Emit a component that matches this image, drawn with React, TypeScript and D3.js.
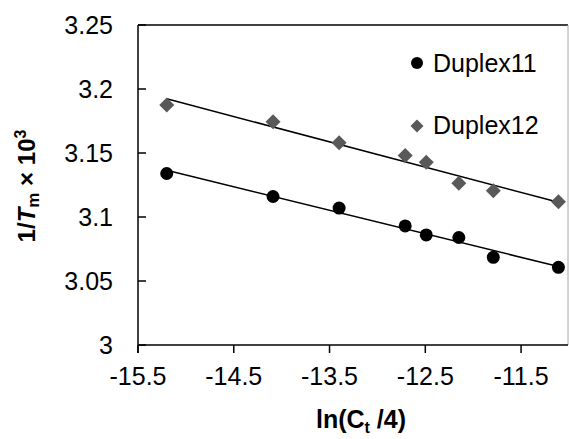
import React from "react";
import * as d3 from "d3";

const xValues = [-15.2, -14.09, -13.4, -12.71, -12.49, -12.15, -11.79, -11.11];
const duplex11 = [3.134, 3.116, 3.107, 3.093, 3.086, 3.084, 3.0685, 3.0607];
const duplex12 = [3.1875, 3.1745, 3.158, 3.148, 3.1427, 3.1263, 3.1206, 3.112];
const xTicks = [-15.5, -14.5, -13.5, -12.5, -11.5];
const yTicks = [3, 3.05, 3.1, 3.15, 3.2, 3.25];
const seriesNames = ["Duplex11", "Duplex12"];

const W = 569;
const H = 439;
const left = 138;
const right = 568;
const top = 25;
const bottom = 345;

function fit(xs: number[], ys: number[]) {
  const mx = d3.mean(xs)!;
  const my = d3.mean(ys)!;
  let num = 0;
  let den = 0;
  xs.forEach((x, i) => {
    num += (x - mx) * (ys[i] - my);
    den += (x - mx) * (x - mx);
  });
  const b = num / den;
  const a = my - b * mx;
  return (x: number) => a + b * x;
}

export default function App() {
  const x = d3.scaleLinear().domain([-15.5, -11.01]).range([left, right]);
  const y = d3.scaleLinear().domain([3, 3.25]).range([bottom, top]);
  const font = "'Liberation Sans', Arial, sans-serif";
  const xMin = d3.min(xValues)!;
  const xMax = d3.max(xValues)!;
  const f11 = fit(xValues, duplex11);
  const f12 = fit(xValues, duplex12);
  const line = d3
    .line<[number, number]>()
    .x((d) => x(d[0]))
    .y((d) => y(d[1]));
  const diamond = (cx: number, cy: number, r: number) =>
    `M${cx},${cy - r}L${cx + r},${cy}L${cx},${cy + r}L${cx - r},${cy}Z`;
  const gray = "#595959";

  return (
    <svg
      width={W}
      height={H}
      style={{ position: "absolute", left: 0, top: 0, background: "#fff" }}
      fontFamily={font}
    >
      <rect x={0} y={0} width={W} height={H} fill="#fff" />
      {/* plot border */}
      <line x1={left} x2={right} y1={top} y2={top} stroke="#000" strokeWidth={1.5} />
      <line x1={right} x2={right} y1={top} y2={bottom} stroke="#a6a6a6" strokeWidth={1} />
      {/* axes */}
      <line x1={left} x2={left} y1={top} y2={bottom + 8} stroke="#000" strokeWidth={1.5} />
      <line x1={left} x2={right} y1={bottom} y2={bottom} stroke="#000" strokeWidth={1.5} />
      {yTicks.map((t) => (
        <g key={"y" + t}>
          <line x1={left} x2={left + 8} y1={y(t)} y2={y(t)} stroke="#000" strokeWidth={1.5} />
          <text x={113} y={y(t)} dy="0.36em" textAnchor="end" fontSize={25} fill="#000">
            {String(t)}
          </text>
        </g>
      ))}
      {xTicks.map((t) => (
        <g key={"x" + t}>
          <line x1={x(t)} x2={x(t)} y1={bottom} y2={bottom + 8} stroke="#000" strokeWidth={1.5} />
          <text x={x(t)} y={385} textAnchor="middle" fontSize={25} fill="#000">
            {String(t)}
          </text>
        </g>
      ))}
      {/* trend lines */}
      <path
        d={line([
          [xMin, f12(xMin)],
          [xMax, f12(xMax)],
        ])!}
        stroke="#000"
        strokeWidth={1.5}
        fill="none"
      />
      <path
        d={line([
          [xMin, f11(xMin)],
          [xMax, f11(xMax)],
        ])!}
        stroke="#000"
        strokeWidth={1.5}
        fill="none"
      />
      {/* markers */}
      {xValues.map((v, i) => (
        <path key={"d" + i} d={diamond(x(v), y(duplex12[i]), 7.5)} fill={gray} />
      ))}
      {xValues.map((v, i) => (
        <circle key={"c" + i} cx={x(v)} cy={y(duplex11[i])} r={6.5} fill="#000" />
      ))}
      {/* legend */}
      <circle cx={417} cy={63} r={6} fill="#000" />
      <text x={433} y={72} fontSize={25} fill="#000">
        {seriesNames[0]}
      </text>
      <path d={diamond(417, 126, 6.5)} fill={gray} />
      <text x={433} y={134} fontSize={25} fill="#000">
        {seriesNames[1]}
      </text>
      {/* axis titles */}
      <text
        transform="translate(35,186) rotate(-90)"
        textAnchor="middle"
        fontSize={24}
        fontWeight="bold"
        fill="#000"
      >
        <tspan>1/</tspan>
        <tspan fontStyle="italic">T</tspan>
        <tspan fontSize={17} dy={4}>m</tspan>
        <tspan dy={-4}> × 10</tspan>
        <tspan fontSize={16} dy={-9}>3</tspan>
      </text>
      <text x={361} y={428} textAnchor="middle" fontSize={25} fontWeight="bold" fill="#000">
        <tspan>ln(C</tspan>
        <tspan fontSize={16} dy={5}>t</tspan>
        <tspan dy={-5}> /4)</tspan>
      </text>
    </svg>
  );
}
